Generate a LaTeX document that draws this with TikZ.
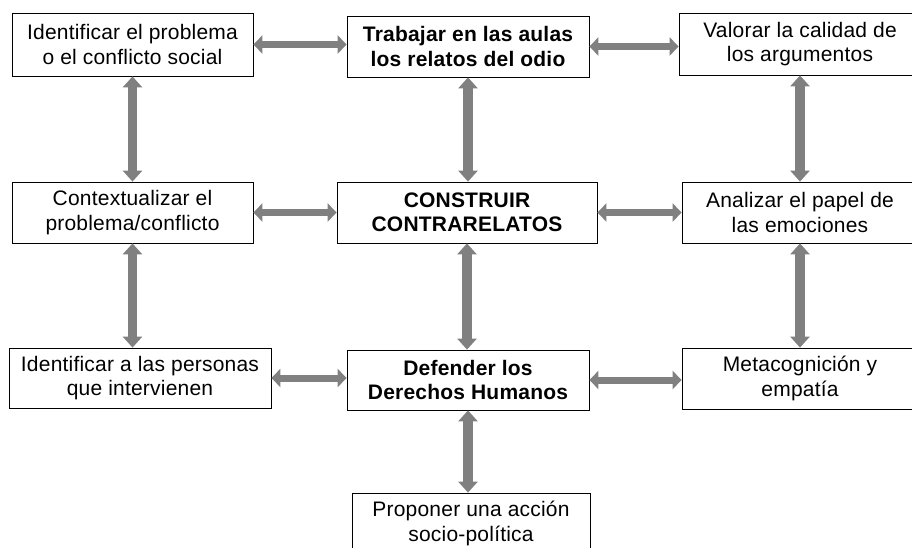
\documentclass[tikz,border=0pt]{standalone}
\usepackage{fontspec}
\setmainfont[LetterSpace=1]{Liberation Sans}
\usetikzlibrary{arrows.meta}
\definecolor{arrgray}{RGB}{128,128,128}
\tikzset{
  box/.style={draw=black, line width=0.8pt, fill=white, align=center, inner sep=0pt,
    font=\fontsize{21}{24.5}\selectfont},
  bbox/.style={box, font=\fontsize{21}{24.5}\selectfont\bfseries},
  harr/.style={draw=arrgray, line width=7pt,
    {Triangle[width=18pt,length=9pt]}-{Triangle[width=18pt,length=9pt]}},
  varr/.style={draw=arrgray, line width=9.5pt,
    {Triangle[width=19pt,length=11pt]}-{Triangle[width=19pt,length=11pt]}}
}
\begin{document}
\begin{tikzpicture}[x=1pt,y=-1pt]
\clip (0,0) rectangle (912,547);
\fill[white] (0,0) rectangle (912,547);
% row 1
\node[box, minimum width=241pt, minimum height=63pt] (tl) at (132.5,44.5) {Identificar el problema\\o el conflicto social};
\node[bbox, minimum width=242pt, minimum height=61pt] (tc) at (468,46.5) {Trabajar en las aulas\\los relatos del odio};
\node[box, minimum width=242pt, minimum height=62pt] (tr) at (800,44) {Valorar la calidad de\\los argumentos};
% row 2
\node[box, minimum width=241pt, minimum height=61pt] (ml) at (132.5,212.5) {Contextualizar el\\problema/conflicto};
\node[bbox, minimum width=260pt, minimum height=61pt] (cc) at (467,212.5) {CONSTRUIR\\CONTRARELATOS};
\node[box, minimum width=236pt, minimum height=61pt] (mr) at (800,212.5) {Analizar el papel de\\las emociones};
% row 3
\node[box, minimum width=262pt, minimum height=60pt] (bl) at (140,378) {Identificar a las personas\\que intervienen};
\node[bbox, minimum width=242pt, minimum height=60pt] (bc) at (468,380) {Defender los\\Derechos Humanos};
\node[box, minimum width=236pt, minimum height=61pt] (br) at (800,378.5) {Metacognición y\\empatía};
% row 4
\node[box, minimum width=238pt, minimum height=61pt] (bb) at (471,523.5) {Proponer una acción\\socio-política};
% horizontal arrows
\draw[harr] (tl.east) -- (tl.east -| tc.west);
\draw[harr] (tc.east) -- (tc.east -| tr.west);
\draw[harr] (ml.east) -- (ml.east -| cc.west);
\draw[harr] (cc.east) -- (cc.east -| mr.west);
\draw[harr] (bl.east) -- (bl.east -| bc.west);
\draw[harr] (bc.east) -- (bc.east -| br.west);
% vertical arrows
\draw[varr] (tl.south) -- (tl.south |- ml.north);
\draw[varr] (tc.south) -- (tc.south |- cc.north);
\draw[varr] (tr.south) -- (tr.south |- mr.north);
\draw[varr] (ml.south) -- (ml.south |- bl.north);
\draw[varr] (cc.south) -- (cc.south |- bc.north);
\draw[varr] (mr.south) -- (mr.south |- br.north);
\draw[varr] (bc.south) -- (bc.south |- bb.north);
\end{tikzpicture}
\end{document}
